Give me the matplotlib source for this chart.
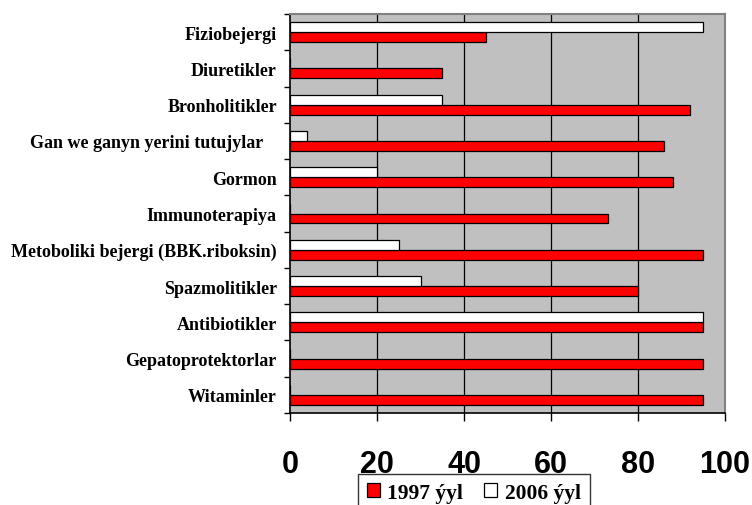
import matplotlib
matplotlib.use("Agg")
import matplotlib.pyplot as plt
import numpy as np

# categories from bottom to top
categories = [
    "Witaminler",
    "Gepatoprotektorlar",
    "Antibiotikler",
    "Spazmolitikler",
    "Metoboliki bejergi (BBK.riboksin)",
    "Immunoterapiya",
    "Gormon",
    "Gan we ganyn yerini tutujylar   ",
    "Bronholitikler",
    "Diuretikler",
    "Fiziobejergi",
]
values_1997 = [95, 95, 95, 80, 95, 73, 88, 86, 92, 35, 45]
values_2006 = [0, 0, 95, 30, 25, 0, 20, 4, 35, 0, 95]
x_ticks = [0, 20, 40, 60, 80, 100]
legend_labels = ["1997 ýyl", "2006 ýyl"]

fig = plt.figure(figsize=(7.52, 5.06), dpi=100)
ax = fig.add_axes([290 / 752, 1 - 414 / 506, 435 / 752, 399 / 506])
ax.set_facecolor("#C0C0C0")

y = np.arange(len(categories))
h = 0.275
b1 = ax.barh(y - h / 2, values_1997, height=h, color="#FF0000",
             edgecolor="black", linewidth=0.9, zorder=3, label=legend_labels[0])
b2 = ax.barh(y + h / 2, values_2006, height=h, color="white",
             edgecolor="black", linewidth=0.9, zorder=3, label=legend_labels[1])

ax.set_xlim(0, 100)
ax.set_ylim(-0.5, len(categories) - 0.5)

# vertical grid lines
for v in x_ticks[1:-1]:
    ax.axvline(v, color="black", linewidth=0.9, zorder=1)

ax.set_xticks(x_ticks)
ax.set_xticklabels([str(v) for v in x_ticks], fontsize=22, fontweight="bold",
                   family="Liberation Sans")
ax.tick_params(axis="x", direction="out", length=6, width=1, pad=20,
               color="black")

ax.set_yticks(y)
ax.set_yticklabels(categories, fontsize=13, fontweight="bold",
                   family="Liberation Serif")
ax.set_yticks(np.arange(len(categories) + 1) - 0.5, minor=True)
ax.tick_params(axis="y", which="major", length=0, pad=9.5)
ax.tick_params(axis="y", which="minor", length=4, width=1, color="black")

for s in ["top", "right"]:
    ax.spines[s].set_color("#808080")
    ax.spines[s].set_linewidth(1.5)
for s in ["left", "bottom"]:
    ax.spines[s].set_color("black")
    ax.spines[s].set_linewidth(1.2)

leg = fig.legend(handles=[b1, b2], loc="upper left",
                 bbox_to_anchor=(358 / 752, 1 - 475 / 506), ncol=2,
                 prop={"family": "Liberation Serif", "weight": "bold", "size": 15.5},
                 frameon=True, fancybox=False, edgecolor="black",
                 handlelength=0.6, handleheight=0.6, handletextpad=0.35,
                 columnspacing=1.0, borderpad=0.4, borderaxespad=0)
leg.get_frame().set_linewidth(1.0)

fig.savefig("out.png", dpi=100)
